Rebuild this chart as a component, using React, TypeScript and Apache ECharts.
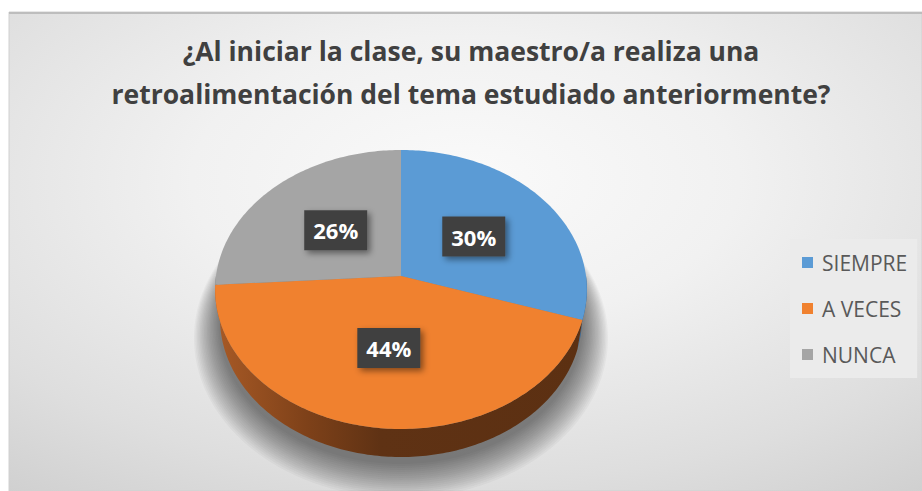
import React, { useEffect, useRef } from "react";
import * as echarts from "echarts";

const titleText = "¿Al iniciar la clase, su maestro/a realiza una\nretroalimentación del tema estudiado anteriormente?";
const categories = ["SIEMPRE", "A VECES", "NUNCA"];
const values = [30, 44, 26];
const valueLabels = ["30%", "44%", "26%"];
const topColors = ["#5b9bd5", "#f0812f", "#a5a5a5"];
const sideStops = [
  [["#3d70a0", 0], ["#2c5783", 1]],
  [["#a85a26", 0], ["#7e4119", 0.25], ["#5f3214", 0.45], ["#5c3012", 1]],
  [["#7a7a7a", 0], ["#555555", 1]],
];

const FONT = "'Open Sans', 'DejaVu Sans', sans-serif";

// perspective projection of a tilted disc
const CX = 401, CY = 276, S = 185, DC = 6.88, SA = 0.747, CA = 0.665, T = 0.245;
function proj(r: number, phiDeg: number, z: number): number[] {
  const p = (phiDeg * Math.PI) / 180;
  const X = r * Math.sin(p);
  const Y = -r * Math.cos(p);
  const up = -Y * SA + z * CA;
  const depth = DC - (Y * CA + z * SA);
  const k = DC / depth;
  return [CX + S * X * k, CY - S * up * k];
}
function arc(a0: number, a1: number, z: number, r = 1): number[][] {
  const pts: number[][] = [];
  const n = Math.max(2, Math.ceil(Math.abs(a1 - a0)));
  for (let j = 0; j <= n; j++) pts.push(proj(r, a0 + ((a1 - a0) * j) / n, z));
  return pts;
}

export default function App() {
  const ref = useRef<HTMLDivElement>(null);
  useEffect(() => {
    if (!ref.current) return;
    const chart = echarts.init(ref.current, null, { renderer: "svg" });
    const total = values.reduce((a, b) => a + b, 0);
    const starts: number[] = [];
    let acc = 0;
    values.forEach((v) => {
      starts.push((acc / total) * 360);
      acc += v;
    });

    const renderItem = (params: any, api: any) => {
      const i = params.dataIndex;
      const v = api.value(0);
      const a0 = starts[i];
      const a1 = a0 + (v / total) * 360;
      const children: any[] = [];
      if (i === 0) {
        // soft shadow under the disc, built from stacked translucent rims
        for (let k = 18; k >= 1; k--) {
          const rr = 1 + k * 0.0085;
          const pts = arc(0, 360, -T - k * 0.005, rr).map((p) => [p[0], p[1] + 5]);
          children.push({
            type: "polygon",
            shape: { points: pts },
            style: { fill: "#000000", opacity: 0.03 },
            z2: -5,
          });
        }
      }
      const s0 = Math.max(a0, 90);
      const s1 = Math.min(a1, 270);
      if (s1 > s0) {
        const top = arc(s0, s1, 0);
        const bot = arc(s0, s1, -T).reverse();
        children.push({
          type: "polygon",
          shape: { points: top.concat(bot) },
          style: {
            fill: new echarts.graphic.LinearGradient(
              0, 0, 1, 0,
              sideStops[i].map((s: any) => ({ offset: s[1], color: s[0] }))
            ),
          },
          z2: 1,
        });
      }
      const face = [proj(0, 0, 0)].concat(arc(a0, a1, 0));
      children.push({
        type: "polygon",
        shape: { points: face },
        style: { fill: topColors[i] },
        z2: 10,
      });
      const lp = proj(0.5, (a0 + a1) / 2, 0);
      children.push({
        type: "text",
        x: lp[0],
        y: lp[1],
        style: {
          text: valueLabels[i],
          fill: "#ffffff",
          fontFamily: FONT,
          fontSize: 22,
          fontWeight: "bold",
          align: "center",
          verticalAlign: "middle",
          lineHeight: 24,
          padding: [8, 9, 8, 9],
          backgroundColor: "#404040",
          shadowBlur: 6,
          shadowColor: "rgba(0,0,0,0.45)",
          shadowOffsetX: 3,
          shadowOffsetY: 3,
        },
        z2: 100,
      });
      return { type: "group", children };
    };

    chart.setOption({
      animation: false,
      graphic: [
        {
          type: "rect",
          shape: { x: 9, y: 12, width: 913, height: 479 },
          style: {
            fill: new echarts.graphic.RadialGradient(0.5, 0.35, 1.0, [
              { offset: 0, color: "#fafafa" },
              { offset: 0.3, color: "#f1f1f1" },
              { offset: 0.63, color: "#dedede" },
              { offset: 1, color: "#c3c3c3" },
            ]),
            stroke: "#d0d0d0",
            lineWidth: 1,
          },
          z: -10,
          silent: true,
        },
        {
          type: "line",
          shape: { x1: 9, y1: 13, x2: 922, y2: 13 },
          style: { stroke: "#bdbdbd", lineWidth: 2 },
          z: -9,
          silent: true,
        },
      ],
      title: {
        text: titleText,
        left: 471,
        top: 29,
        padding: 0,
        textAlign: "center",
        textStyle: {
          fontFamily: FONT,
          fontSize: 26.5,
          fontWeight: "bold",
          color: "#404040",
          lineHeight: 43,
        },
      },
      legend: {
        orient: "vertical",
        left: 790,
        top: 239,
        padding: [13, 10, 13, 12],
        backgroundColor: "#ebebeb",
        itemWidth: 11,
        itemHeight: 11,
        itemGap: 25,
        icon: "rect",
        data: categories,
        selectedMode: false,
        textStyle: {
          fontFamily: FONT,
          fontSize: 21,
          color: "#595959",
          lineHeight: 20,
          padding: [0, 0, 0, 4],
        },
      },
      series: [
        {
          type: "pie",
          silent: true,
          center: [-200, -200],
          radius: 1,
          label: { show: false },
          labelLine: { show: false },
          data: categories.map((c, i) => ({
            name: c,
            value: values[i],
            itemStyle: { color: topColors[i] },
          })),
        },
        {
          type: "custom",
          coordinateSystem: "none",
          silent: true,
          renderItem,
          data: values.map((v, i) => ({ name: categories[i], value: v })),
        },
      ],
    });
    return () => chart.dispose();
  }, []);
  return (
    <div
      ref={ref}
      style={{ position: "fixed", left: 0, top: 0, width: 922, height: 491, background: "#fff" }}
    />
  );
}
